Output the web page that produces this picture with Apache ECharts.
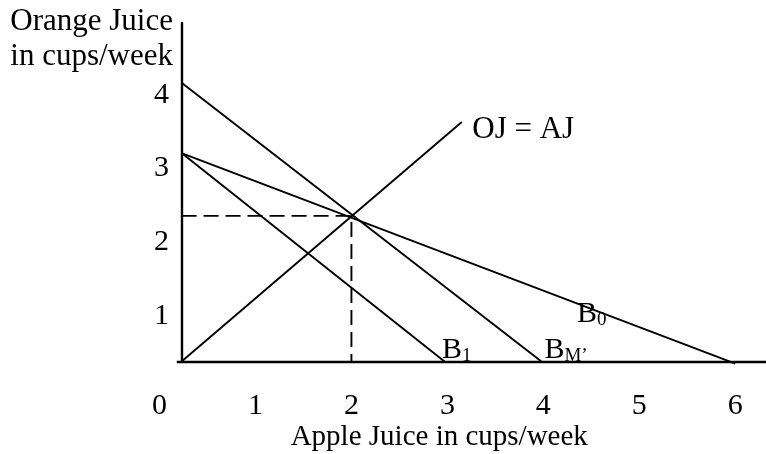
<!DOCTYPE html>
<html>
<head>
<meta charset="utf-8">
<script src="https://cdn.jsdelivr.net/npm/echarts@6/dist/echarts.min.js"></script>
<style>
    html, body { margin: 0; padding: 0; background: #fff; }
    #chart { width: 766px; height: 454px; }
</style>
</head>
<body>
<div id="chart"></div>
<script>
// tick labels
var xTicks = [0, 1, 2, 3, 4, 5, 6];
var yTicks = [1, 2, 3, 4];

// where the drawn axes cross, in tick-label units
var axisX0 = 0.23;
var axisY0 = 0.39;
var xMax = 6.32;

// [apple juice, orange juice]
var budgetM = [[axisX0, 4.16], [3.98, axisY0]];
var budget0 = [[axisX0, 3.21], [6.0, 0.36]];
var budget1 = [[axisX0, 3.21], [2.97, axisY0]];
var equalLine = [[axisX0, axisY0], [3.15, 3.63]];
var optimum = [2.0, 2.36];
var guide = [[axisX0, optimum[1]], optimum, [optimum[0], axisY0]];

var FONT = "'Liberation Serif', 'Times New Roman', serif";

var rich = {
    m: { fontFamily: FONT, fontSize: 30, lineHeight: 30, color: '#000' },
    s: { fontFamily: FONT, fontSize: 19, lineHeight: 14, verticalAlign: 'bottom', color: '#000' }
};

// text tag put next to a point of a line
function tag(coord, text, offset) {
    return {
        symbol: 'circle',
        symbolSize: 1,
        silent: true,
        itemStyle: { color: 'rgba(0,0,0,0)' },
        label: {
            show: true,
            position: 'right',
            distance: 0,
            offset: offset,
            formatter: text,
            color: '#000',
            fontFamily: FONT,
            fontSize: 31,
            rich: rich
        },
        data: [{ coord: coord }]
    };
}

function line(data, dashed, mark) {
    return {
        type: 'line',
        data: data,
        symbol: 'none',
        clip: false,
        silent: true,
        lineStyle: { color: '#000', width: 1.9, type: dashed ? [15, 7] : 'solid' },
        markPoint: mark
    };
}

// horizontal axis from just left of the crossing, plus the little stub below it
var guideSeries = line(guide, true);
guideSeries.markLine = {
    silent: true,
    symbol: 'none',
    label: { show: false },
    lineStyle: { color: '#000', width: 2.4, type: 'solid' },
    data: [
        [{ coord: [axisX0 - 0.05, axisY0] }, { coord: [xMax, axisY0] }],
        [{ coord: [axisX0, axisY0] }, { coord: [axisX0, axisY0 - 0.09] }]
    ]
};

var option = {
    animation: false,
    backgroundColor: '#fff',
    grid: { left: 159.5, right: 0, top: 23, bottom: 92.5, outerBoundsMode: 'none', containLabel: false },
    xAxis: {
        type: 'value',
        min: 0,
        max: xMax,
        axisLine: { show: false, onZero: false },
        axisTick: { show: false },
        splitLine: { show: false },
        axisLabel: { customValues: xTicks, margin: 29.5, color: '#000', fontFamily: FONT, fontSize: 30 },
        name: 'Apple Juice in cups/week',
        nameLocation: 'middle',
        nameGap: 61,
        nameMoveOverlap: false,
        nameTextStyle: { color: '#000', fontFamily: FONT, fontSize: 29, padding: [0, 47, 0, 0] }
    },
    yAxis: {
        type: 'value',
        min: axisY0,
        max: 4.97,
        offset: -22.5,
        axisLine: { onZero: false, lineStyle: { color: '#000', width: 2.4 } },
        axisTick: { show: false },
        splitLine: { show: false },
        axisLabel: { customValues: yTicks, margin: 13, color: '#000', fontFamily: FONT, fontSize: 30 },
        name: 'Orange Juice\nin cups/week',
        nameLocation: 'end',
        nameGap: 19,
        nameMoveOverlap: false,
        nameTextStyle: {
            color: '#000', fontFamily: FONT, fontSize: 31, lineHeight: 35,
            align: 'right', verticalAlign: 'top', padding: [0, 9, 0, 0]
        }
    },
    series: [
        line(budgetM, false, tag(budgetM[1], '{m|B}{s|M’}', [2.5, -11])),
        line(budget0, false, tag([4.35, 1.18], '{m|B}{s|0}', [-0.5, 11.4])),
        line(budget1, false, tag(budget1[1], '{m|B}{s|1}', [-3, -11])),
        line(equalLine, false, tag(equalLine[1], 'OJ = AJ', [10, 8])),
        guideSeries
    ]
};

var myChart = echarts.init(document.getElementById('chart'));
myChart.setOption(option);
</script>
</body>
</html>
